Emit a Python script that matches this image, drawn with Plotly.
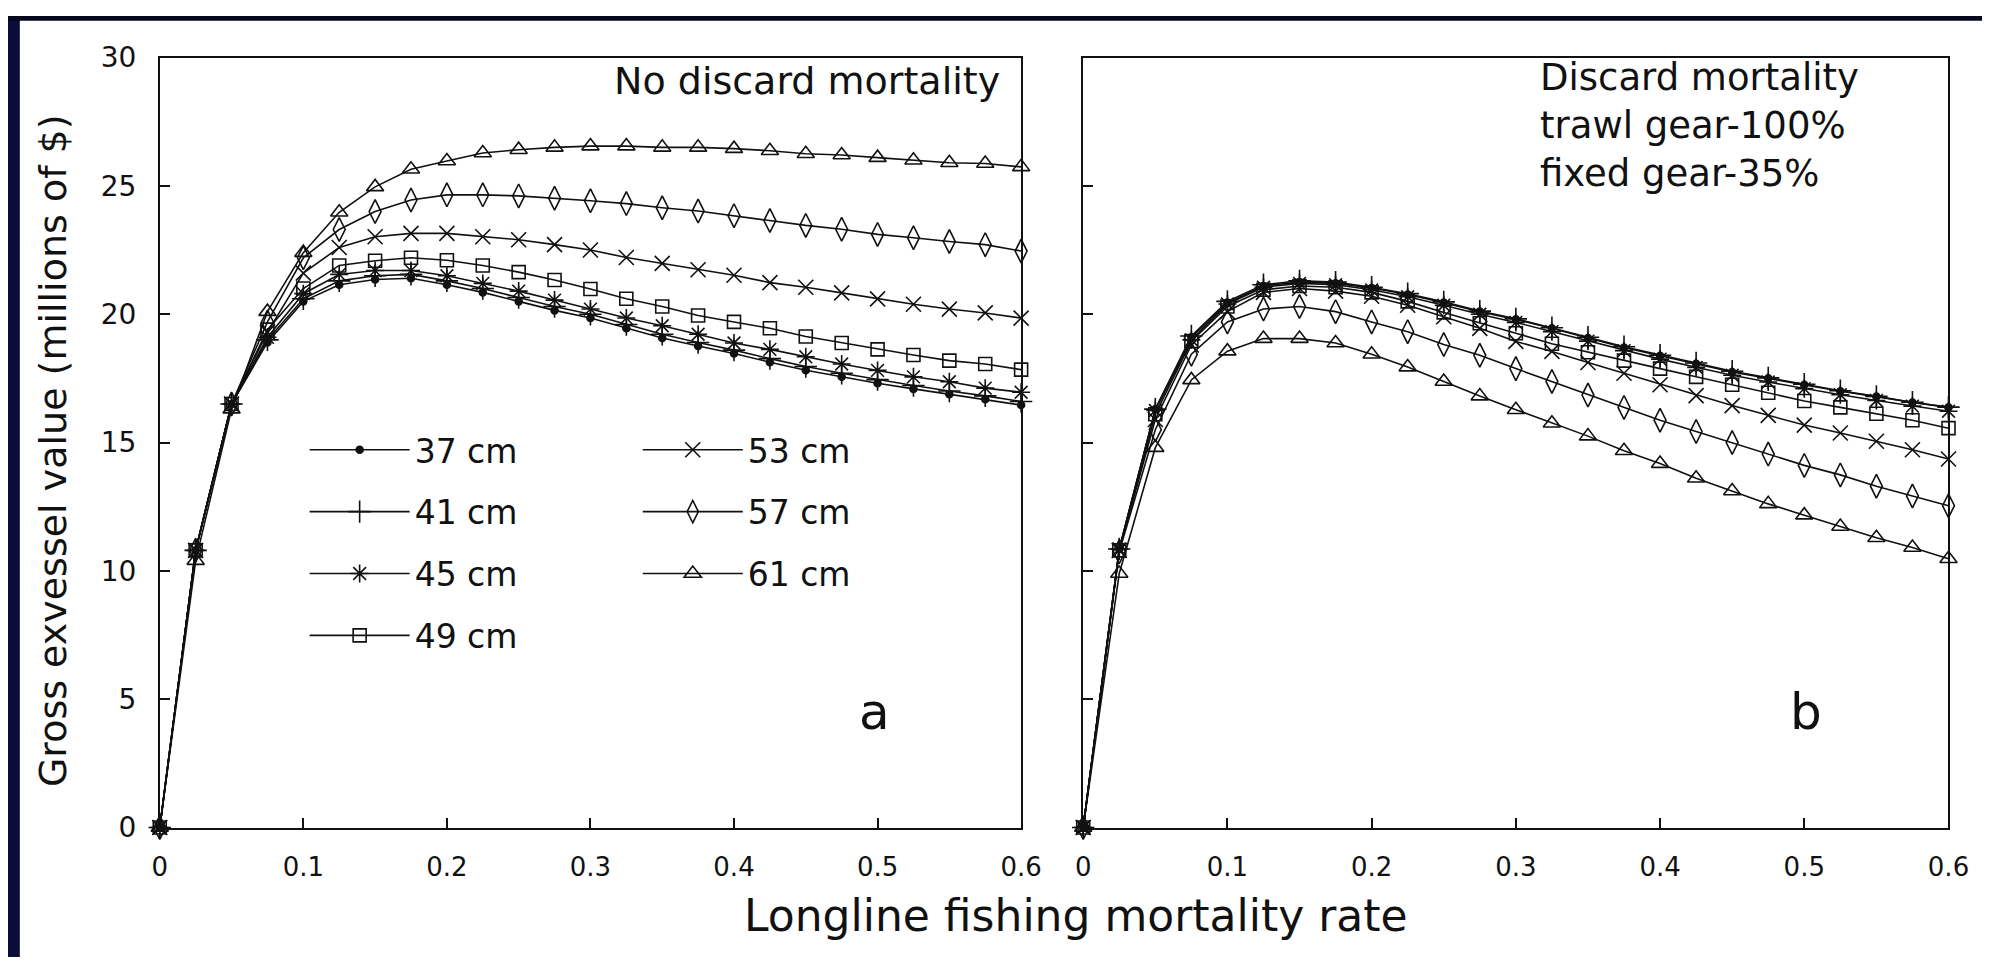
import plotly.graph_objects as go

# ---------------- data ----------------
f_rate = [0, 0.025, 0.05, 0.075, 0.1, 0.125, 0.15, 0.175, 0.2, 0.225, 0.25, 0.275, 0.3,
          0.325, 0.35, 0.375, 0.4, 0.425, 0.45, 0.475, 0.5, 0.525, 0.55, 0.575, 0.6]

size_labels = ["37 cm", "41 cm", "45 cm", "49 cm", "53 cm", "57 cm", "61 cm"]

# panel a: no discard mortality
a_37 = [0, 10.8, 16.5, 18.9, 20.5, 21.15, 21.35, 21.4, 21.15, 20.85, 20.5, 20.15, 19.85,
        19.45, 19.07, 18.76, 18.47, 18.13, 17.82, 17.56, 17.31, 17.09, 16.88, 16.69, 16.46]
a_41 = [0, 10.8, 16.5, 19.0, 20.6, 21.3, 21.5, 21.55, 21.3, 21.0, 20.65, 20.3, 20.0,
        19.6, 19.22, 18.9, 18.6, 18.27, 17.96, 17.7, 17.45, 17.22, 17.01, 16.82, 16.6]
a_45 = [0, 10.8, 16.5, 19.1, 20.8, 21.55, 21.7, 21.7, 21.5, 21.2, 20.9, 20.55, 20.2,
        19.85, 19.55, 19.22, 18.88, 18.63, 18.34, 18.06, 17.81, 17.56, 17.37, 17.12, 16.96]
a_49 = [0, 10.8, 16.5, 19.4, 21.0, 21.9, 22.08, 22.2, 22.1, 21.9, 21.64, 21.33, 20.98,
        20.6, 20.3, 19.95, 19.7, 19.45, 19.13, 18.88, 18.63, 18.41, 18.19, 18.06, 17.84]
a_53 = [0, 10.8, 16.5, 19.3, 21.6, 22.6, 23.02, 23.15, 23.15, 23.02, 22.9, 22.71, 22.5,
        22.21, 21.98, 21.73, 21.52, 21.23, 21.05, 20.83, 20.6, 20.39, 20.2, 20.05, 19.85]
a_57 = [0, 10.8, 16.5, 19.7, 22.2, 23.3, 24.0, 24.45, 24.65, 24.65, 24.61, 24.52, 24.42,
        24.31, 24.15, 24.02, 23.84, 23.65, 23.46, 23.31, 23.11, 22.98, 22.83, 22.71, 22.46]
a_61 = [0, 10.4, 16.3, 20.1, 22.4, 23.97, 24.96, 25.65, 25.97, 26.28, 26.41, 26.5, 26.55,
        26.55, 26.5, 26.5, 26.45, 26.37, 26.25, 26.2, 26.1, 26.0, 25.9, 25.87, 25.74]

# panel b: discard mortality (trawl 100%, fixed 35%)
b_37 = [0, 10.85, 16.3, 19.1, 20.45, 21.1, 21.25, 21.2, 21.02, 20.77, 20.45, 20.1, 19.8,
        19.45, 19.07, 18.7, 18.38, 18.07, 17.75, 17.5, 17.25, 17.0, 16.79, 16.56, 16.37]
b_41 = [0, 10.85, 16.3, 19.15, 20.5, 21.15, 21.3, 21.25, 21.05, 20.8, 20.48, 20.12, 19.82,
        19.47, 19.1, 18.73, 18.4, 18.1, 17.78, 17.52, 17.27, 17.02, 16.8, 16.57, 16.38]
b_45 = [0, 10.85, 16.25, 19.0, 20.4, 21.05, 21.2, 21.15, 20.95, 20.68, 20.35, 20.0, 19.68,
        19.32, 18.95, 18.58, 18.25, 17.93, 17.62, 17.36, 17.1, 16.86, 16.64, 16.42, 16.22]
b_49 = [0, 10.8, 16.1, 18.95, 20.3, 20.95, 21.1, 21.05, 20.85, 20.5, 20.07, 19.65, 19.26,
        18.85, 18.52, 18.19, 17.88, 17.56, 17.25, 16.94, 16.62, 16.37, 16.12, 15.87, 15.56]
b_53 = [0, 10.8, 15.9, 18.8, 20.1, 20.85, 21.0, 20.9, 20.7, 20.35, 19.9, 19.45, 18.94,
        18.55, 18.12, 17.7, 17.25, 16.83, 16.44, 16.06, 15.68, 15.37, 15.05, 14.72, 14.36]
b_57 = [0, 10.75, 15.5, 18.44, 19.7, 20.2, 20.3, 20.1, 19.7, 19.32, 18.82, 18.4, 17.88,
        17.38, 16.85, 16.37, 15.87, 15.43, 15.0, 14.55, 14.11, 13.74, 13.3, 12.92, 12.54]
b_61 = [0, 9.9, 14.8, 17.44, 18.56, 19.05, 19.05, 18.88, 18.44, 17.94, 17.38, 16.81, 16.28,
        15.75, 15.25, 14.68, 14.18, 13.61, 13.11, 12.61, 12.17, 11.73, 11.29, 10.91, 10.47]

x_ticks = [0, 0.1, 0.2, 0.3, 0.4, 0.5, 0.6]
x_ticktext = ["0", "0.1", "0.2", "0.3", "0.4", "0.5", "0.6"]
y_ticks = [0, 5, 10, 15, 20, 25, 30]

panel_a = [a_37, a_41, a_45, a_49, a_53, a_57, a_61]
panel_b = [b_37, b_41, b_45, b_49, b_53, b_57, b_61]

# ---------------- styles ----------------
FONT = "DejaVu Sans"
INK = "#111111"
symbols = ["circle", "cross-thin-open", "asterisk-open", "square-open",
           "x-thin-open", "diamond-tall-open", "triangle-up-open"]
msizes = [7, 16, 15, 13, 15, 17, 15]
legend_ids = ["legend", "legend", "legend", "legend", "legend2", "legend2", "legend2"]

fig = go.Figure()

for i, lab in enumerate(size_labels):
    for panel, xa, ya, show in ((panel_a, "x", "y", True), (panel_b, "x2", "y2", False)):
        fig.add_trace(go.Scatter(
            x=f_rate, y=panel[i], xaxis=xa, yaxis=ya,
            mode="lines+markers", name=lab,
            line=dict(color=INK, width=1.6),
            marker=dict(symbol=symbols[i], size=msizes[i], color=INK,
                        line=dict(color=INK, width=1.6)),
            cliponaxis=False, showlegend=show,
            legend=legend_ids[i], legendgroup=lab,
        ))

W, H = 2003, 974

axis_common = dict(
    showgrid=False, zeroline=False, showline=True, linecolor=INK, linewidth=1.5,
    mirror=True, ticks="inside", ticklen=10, tickwidth=1.5, tickcolor=INK,
)

legend_common = dict(
    xanchor="left", yanchor="top", orientation="v", traceorder="grouped",
    tracegroupgap=16, itemwidth=100, bgcolor="rgba(0,0,0,0)",
    font=dict(family=FONT, size=33, color=INK),
)

fig.update_layout(
    width=W, height=H,
    margin=dict(l=0, r=0, t=0, b=0),
    paper_bgcolor="white", plot_bgcolor="white",
    font=dict(family=FONT, color=INK),
    xaxis=dict(domain=[154 / W, 1028 / W], range=[0, 0.6], tickvals=x_ticks,
               ticktext=x_ticktext, ticklabelstandoff=16,
               tickfont=dict(family=FONT, size=26, color=INK), **axis_common),
    xaxis2=dict(domain=[1091 / W, 1969 / W], range=[0, 0.6], tickvals=x_ticks,
                ticktext=x_ticktext, ticklabelstandoff=16,
                tickfont=dict(family=FONT, size=26, color=INK), **axis_common),
    yaxis=dict(domain=[1 - 840 / H, 1 - 43 / H], range=[0, 30], tickvals=y_ticks,
               ticklabelstandoff=16, anchor="x",
               tickfont=dict(family=FONT, size=28, color=INK), **axis_common),
    yaxis2=dict(domain=[1 - 840 / H, 1 - 43 / H], range=[0, 30], tickvals=y_ticks,
                showticklabels=False, anchor="x2", **axis_common),
    legend=dict(x=301 / W, y=1 - 420 / H, **legend_common),
    legend2=dict(x=639 / W, y=1 - 420 / H, **legend_common),
    showlegend=True,
)

annotations = [
    dict(text="No discard mortality", x=1009 / W, y=1 - 67 / H, xanchor="right",
         yanchor="middle", font=dict(size=38)),
    dict(text="Discard mortality<br>trawl gear-100%<br>fixed gear-35%", x=1552 / W,
         y=1 - 113 / H, xanchor="left", yanchor="middle", align="left",
         font=dict(size=37)),
    dict(text="a", x=879 / W, y=1 - 720 / H, xanchor="center", yanchor="middle",
         font=dict(size=50)),
    dict(text="b", x=1824 / W, y=1 - 720 / H, xanchor="center", yanchor="middle",
         font=dict(size=50)),
    dict(text="Longline fishing mortality rate", x=1084 / W, y=1 - 903 / H,
         xanchor="center", yanchor="top", font=dict(size=44)),
    dict(text="Gross exvessel value (millions of $)", x=45 / W, y=1 - 450 / H,
         xanchor="center", yanchor="middle", textangle=-90, font=dict(size=38)),
]
for a in annotations:
    a.update(xref="paper", yref="paper", showarrow=False)
    a["font"].update(family=FONT, color=INK)
fig.update_layout(annotations=annotations)

# dark scan border (left and top edges of the photographed page)
fig.add_shape(type="rect", xref="paper", yref="paper", x0=0, x1=12 / W, y0=0, y1=1,
              fillcolor="#0c0c3a", line=dict(width=0), layer="above")
fig.add_shape(type="rect", xref="paper", yref="paper", x0=0, x1=1, y0=1 - 5 / H, y1=1,
              fillcolor="#06061c", line=dict(width=0), layer="above")

fig.write_html("out.html")
